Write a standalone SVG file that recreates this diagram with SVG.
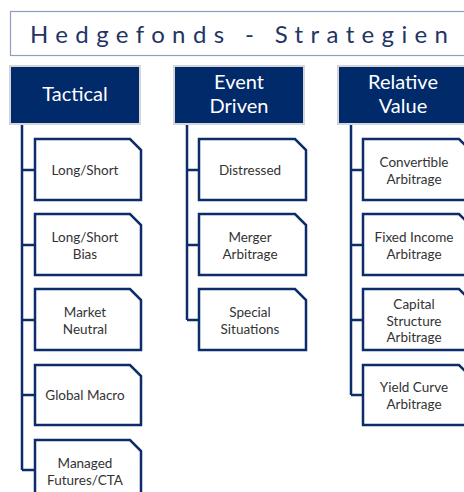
<svg xmlns="http://www.w3.org/2000/svg" width="464" height="492" viewBox="0 0 464 492">
  <defs>
    <style>
      .title-box { fill: #ffffff; stroke: #8f9fba; stroke-width: 1.2; }
      .title { font-family: Lato, "Open Sans", "Liberation Sans", sans-serif; font-size: 24px; fill: #1f3564; }
      .head { fill: #012a6b; stroke: #d4d6da; stroke-width: 2; }
      .head-text { font-family: Lato, "Open Sans", "Liberation Sans", sans-serif; font-size: 20px; fill: #ffffff; text-anchor: middle; }
      .leaf { fill: #ffffff; stroke: #0c2c6c; stroke-width: 2.5; stroke-linejoin: miter; }
      .leaf-text { font-family: Lato, "Open Sans", "Liberation Sans", sans-serif; font-size: 13.5px; fill: #333333; text-anchor: middle; }
      .conn { fill: none; stroke: #0c2c6c; stroke-width: 2.5; }
    </style>
  </defs>

  <rect width="464" height="492" fill="#ffffff"/>

  <!-- title banner -->
  <g id="title">
    <rect class="title-box" x="10.5" y="11.5" width="460" height="44"/>
    <text class="title" x="30" y="43" textLength="418" lengthAdjust="spacing">Hedgefonds - Strategien</text>
  </g>

  <!-- connectors: trunk from each category plus branches to each strategy -->
  <g id="connectors">
    <path class="conn" d="M22,124 V470 M22,170 H35 M22,245 H35 M22,320 H35 M22,395 H35 M22,470 H35"/>
    <path class="conn" d="M187,124 V320 M187,170 H199 M187,245 H199 M187,320 H199"/>
    <path class="conn" d="M351,124 V395 M351,170 H363 M351,245 H363 M351,320 H363 M351,395 H363"/>
  </g>

  <!-- category headers -->
  <g id="tactical">
    <rect class="head" x="10" y="66" width="130" height="58"/>
    <text class="head-text" x="75" y="101">Tactical</text>
  </g>
  <g id="event-driven">
    <rect class="head" x="174" y="66" width="130" height="58"/>
    <text class="head-text" x="239" y="88.5">Event</text>
    <text class="head-text" x="239" y="113">Driven</text>
  </g>
  <g id="relative-value">
    <rect class="head" x="338" y="66" width="130" height="58"/>
    <text class="head-text" x="403" y="88.5">Relative</text>
    <text class="head-text" x="403" y="113">Value</text>
  </g>

  <!-- Tactical strategies -->
  <g id="long-short">
    <path class="leaf" d="M35,139 H130 L141,150 V200 H35 Z"/>
    <text class="leaf-text" x="85" y="175">Long/Short</text>
  </g>
  <g id="long-short-bias">
    <path class="leaf" d="M35,214 H130 L141,225 V275 H35 Z"/>
    <text class="leaf-text" x="85" y="242">Long/Short</text>
    <text class="leaf-text" x="85" y="258.5">Bias</text>
  </g>
  <g id="market-neutral">
    <path class="leaf" d="M35,289 H130 L141,300 V350 H35 Z"/>
    <text class="leaf-text" x="85" y="317">Market</text>
    <text class="leaf-text" x="85" y="333.5">Neutral</text>
  </g>
  <g id="global-macro">
    <path class="leaf" d="M35,365 H130 L141,376 V425 H35 Z"/>
    <text class="leaf-text" x="85" y="400">Global Macro</text>
  </g>
  <g id="managed-futures">
    <path class="leaf" d="M35,440 H130 L141,451 V502 H35 Z"/>
    <text class="leaf-text" x="85" y="468">Managed</text>
    <text class="leaf-text" x="85" y="484.5">Futures/CTA</text>
  </g>

  <!-- Event Driven strategies -->
  <g id="distressed">
    <path class="leaf" d="M199,139 H295 L306,150 V200 H199 Z"/>
    <text class="leaf-text" x="250" y="175">Distressed</text>
  </g>
  <g id="merger-arbitrage">
    <path class="leaf" d="M199,214 H295 L306,225 V275 H199 Z"/>
    <text class="leaf-text" x="250" y="242">Merger</text>
    <text class="leaf-text" x="250" y="258.5">Arbitrage</text>
  </g>
  <g id="special-situations">
    <path class="leaf" d="M199,289 H295 L306,300 V350 H199 Z"/>
    <text class="leaf-text" x="250" y="317">Special</text>
    <text class="leaf-text" x="250" y="333.5">Situations</text>
  </g>

  <!-- Relative Value strategies -->
  <g id="convertible-arbitrage">
    <path class="leaf" d="M363,139 H459 L470,150 V200 H363 Z"/>
    <text class="leaf-text" x="414" y="167">Convertible</text>
    <text class="leaf-text" x="414" y="183.5">Arbitrage</text>
  </g>
  <g id="fixed-income-arbitrage">
    <path class="leaf" d="M363,214 H459 L470,225 V275 H363 Z"/>
    <text class="leaf-text" x="414" y="242">Fixed Income</text>
    <text class="leaf-text" x="414" y="258.5">Arbitrage</text>
  </g>
  <g id="capital-structure-arbitrage">
    <path class="leaf" d="M363,289 H459 L470,300 V350 H363 Z"/>
    <text class="leaf-text" x="414" y="309">Capital</text>
    <text class="leaf-text" x="414" y="325.5">Structure</text>
    <text class="leaf-text" x="414" y="342">Arbitrage</text>
  </g>
  <g id="yield-curve-arbitrage">
    <path class="leaf" d="M363,365 H459 L470,376 V425 H363 Z"/>
    <text class="leaf-text" x="414" y="392">Yield Curve</text>
    <text class="leaf-text" x="414" y="408.5">Arbitrage</text>
  </g>
</svg>
